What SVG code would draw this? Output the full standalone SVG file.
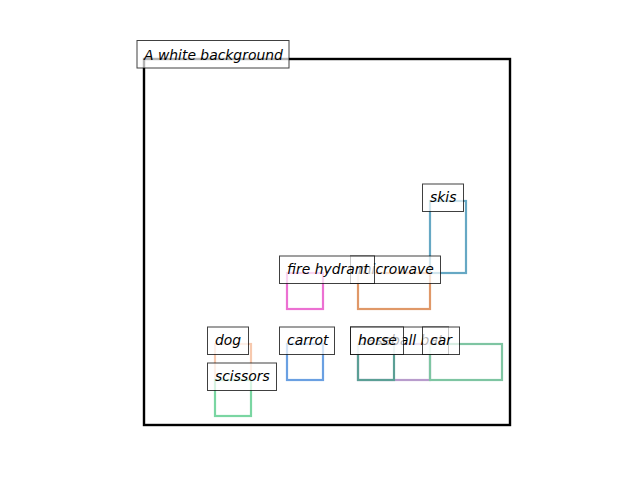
<svg xmlns="http://www.w3.org/2000/svg" width="640" height="480" viewBox="0 0 640 480">
<style>
.bb{fill:none;stroke-width:2.2}
.lb{fill:#ffffff;fill-opacity:0.7;stroke:#000000;stroke-opacity:0.75;stroke-width:1}
.tx{font-family:"DejaVu Sans",sans-serif;font-style:italic;font-size:13.9px;fill:#000000}
</style>
<rect width="640" height="480" fill="#ffffff"/>
<rect id="frame" x="144" y="59" width="366" height="366" fill="none" stroke="#000000" stroke-width="2.4"/>
<g id="connectors"></g>
<g id="boxes">
<rect class="bb" x="430" y="201" width="36" height="72" stroke="#66a8c4"/>
<rect class="bb" x="358" y="273" width="72" height="36" stroke="#e09868"/>
<rect class="bb" x="287" y="273" width="36" height="36" stroke="#ec70d2"/>
<rect class="bb" x="215" y="344" width="36" height="36" stroke="#f7c9ae"/>
<rect class="bb" x="215" y="380" width="36" height="36" stroke="#7ad6a2"/>
<rect class="bb" x="287" y="344" width="36" height="36" stroke="#6aa0e2"/>
<rect class="bb" x="358" y="344" width="72" height="36" stroke="#b89ccc"/>
<rect class="bb" x="358" y="344" width="36" height="36" stroke="#5b9f95"/>
<rect class="bb" x="430" y="344" width="72" height="36" stroke="#7ec5a2"/>
</g>
<g id="node-background"><rect class="lb" x="137" y="40.5" width="152" height="27.5"/><text class="tx" x="144" y="60">A white background</text></g>
<g id="node-skis"><rect class="lb" x="422.5" y="184" width="41" height="27.5"/><text class="tx" x="430" y="201.5">skis</text></g>
<g id="node-microwave"><rect class="lb" x="350.5" y="256" width="90" height="27.5"/><text class="tx" x="358" y="273.5">microwave</text></g>
<g id="node-fire-hydrant"><rect class="lb" x="279.5" y="256" width="95" height="27.5"/><text class="tx" x="287" y="273.5">fire hydrant</text></g>
<g id="node-dog"><rect class="lb" x="207.5" y="327" width="41" height="27.5"/><text class="tx" x="215" y="344.5">dog</text></g>
<g id="node-scissors"><rect class="lb" x="207.5" y="363" width="69" height="27.5"/><text class="tx" x="215" y="380.5">scissors</text></g>
<g id="node-carrot"><rect class="lb" x="279.5" y="327" width="55" height="27.5"/><text class="tx" x="287" y="344.5">carrot</text></g>
<g id="node-baseball-bat"><rect class="lb" x="350.5" y="327" width="98" height="27.5"/><text class="tx" x="358" y="344.5">baseball bat</text></g>
<g id="node-horse"><rect class="lb" x="350.5" y="327" width="53" height="27.5"/><text class="tx" x="358" y="344.5">horse</text></g>
<g id="node-car"><rect class="lb" x="422.5" y="327" width="37" height="27.5"/><text class="tx" x="430" y="344.5">car</text></g>
</svg>
